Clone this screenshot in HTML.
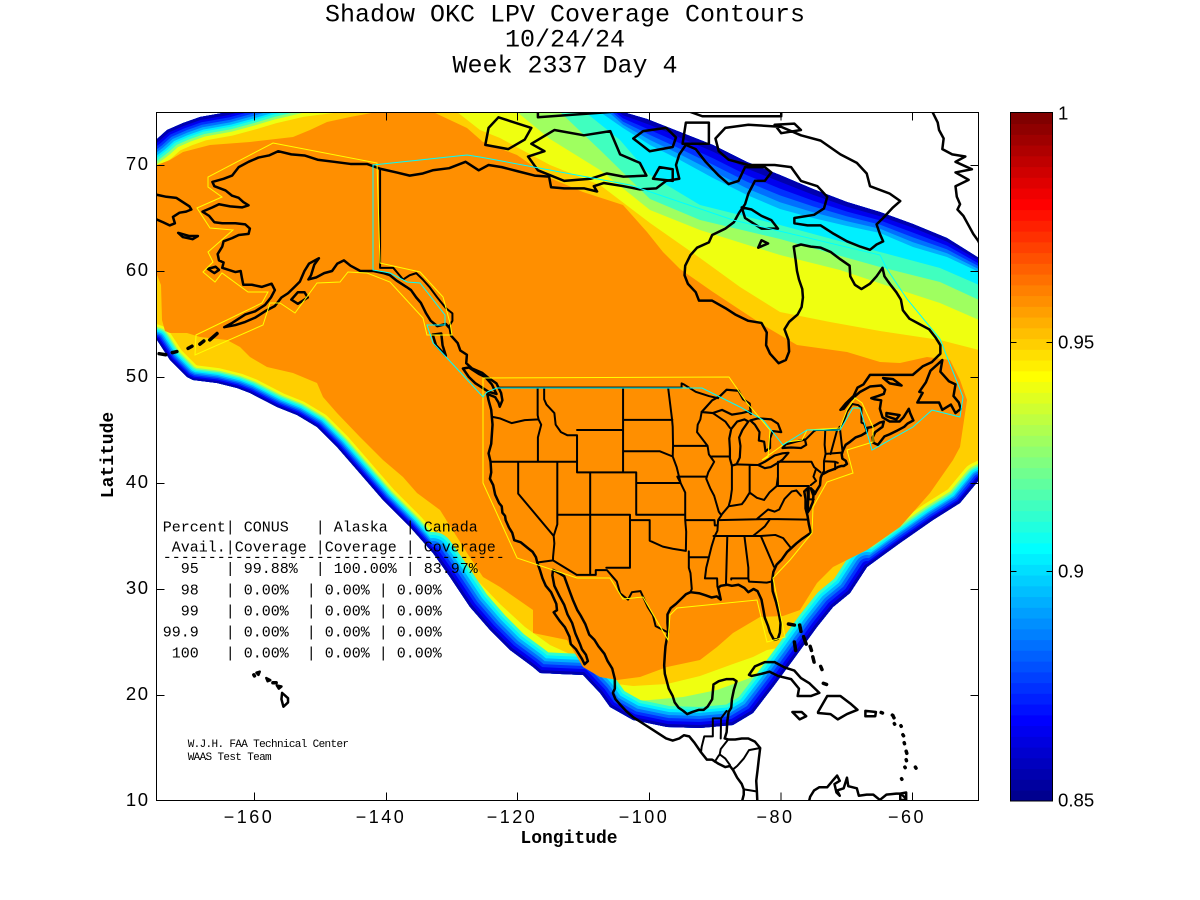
<!DOCTYPE html>
<html><head><meta charset="utf-8"><style>
html,body{margin:0;padding:0;background:#fff}
svg{display:block}
.m{font-family:"Liberation Mono",monospace}
.s{font-family:"Liberation Sans",sans-serif}
.c path{vector-effect:non-scaling-stroke}
.pre{white-space:pre}
</style></head><body>
<svg xmlns="http://www.w3.org/2000/svg" xmlns:xlink="http://www.w3.org/1999/xlink" width="1200" height="900" viewBox="0 0 1200 900">
<defs>
<clipPath id="plot"><rect x="157" y="112.5" width="821.5" height="688.5"/></clipPath>
<clipPath id="cov"><polygon points="110,160 140,152 157,139 167,130 183,123 200,117 228,112 250,106 270,100 300,93 340,88 400,84 530,85 623,112 647,119 680,132 713,145 747,162 780,175 813,189 847,202 880,212 913,224 947,238 979,258 1000,275 1000,470 979,480 960,503 933,520 900,543 867,567 850,593 833,607 817,627 793,660 773,687 753,713 733,725 700,728 667,727 633,720 610,707 600,693 583,675 560,674 540,673 533,667 510,650 490,630 470,607 450,577 433,553 410,527 383,500 357,470 337,447 317,427 297,415 277,407 250,393 237,388 217,383 193,380 187,377 170,360 157,340 140,334 110,338"/></clipPath>
<path id="tl" fill="none" d="M110,160 L140,152 157,139 167,130 183,123 200,117 228,112 250,106 270,100 300,93 340,88 400,84"/>
<path id="sw" fill="none" d="M100,340 L140,334 157,340 170,360 187,377 193,380 217,383 237,388 250,393 277,407 297,415 317,427 337,447 357,470 383,500 410,527 433,553 450,577 470,607"/>
<path id="so" fill="none" d="M433,553 L450,577 470,607 490,630 510,650 533,667 540,673 560,674 583,675 600,693 610,707 633,720 667,727 700,728 733,725 753,713 773,687 793,660 817,627 833,607 850,593 867,567"/>
<path id="se" fill="none" d="M833,607 L850,593 867,567 900,543 933,520 960,503 979,480 1000,470 1020,460"/>
</defs>
<rect width="1200" height="900" fill="#fff"/>

<!-- Title -->
<g class="m" font-size="25" text-anchor="middle" fill="#000">
<text x="565" y="21.5">Shadow OKC LPV Coverage Contours</text>
<text x="565" y="46.5">10/24/24</text>
<text x="565" y="72.5">Week 2337 Day 4</text>
</g>

<g clip-path="url(#plot)">
 <g clip-path="url(#cov)">
  <rect x="90" y="40" width="960" height="820" fill="#FFCF00"/>
  <!-- south overlays -->
  <polygon fill="#EFFF10" points="450,550 475,578 500,604 525,627 550,645 583,660 600,682 633,686 667,684 700,676 733,664 753,657 767,650 783,647 800,640 817,625 830,615 840,790 450,790"/>
  <polygon fill="#8FFF70" points="600,700 620,702 650,700 683,697 717,690 750,678 783,663 800,652 815,640 830,635 840,790 600,790"/>
  <!-- edge bands -->
  <g fill="none" stroke-linejoin="round" stroke-linecap="round">
   <use href="#tl" stroke="#EFFF10" stroke-width="48"/><use href="#sw" stroke="#EFFF10" stroke-width="30"/><use href="#se" stroke="#EFFF10" stroke-width="36"/>
   <use href="#tl" stroke="#8FFF70" stroke-width="40"/><use href="#sw" stroke="#8FFF70" stroke-width="25"/><use href="#se" stroke="#8FFF70" stroke-width="30"/>
   <use href="#tl" stroke="#30FFCF" stroke-width="35"/><use href="#sw" stroke="#30FFCF" stroke-width="22"/><use href="#so" stroke="#30FFCF" stroke-width="42"/><use href="#se" stroke="#30FFCF" stroke-width="26"/>
   <use href="#tl" stroke="#00EFFF" stroke-width="30"/><use href="#sw" stroke="#00EFFF" stroke-width="19"/><use href="#so" stroke="#00EFFF" stroke-width="36"/><use href="#se" stroke="#00EFFF" stroke-width="23"/>
   <use href="#tl" stroke="#00AFFF" stroke-width="26"/><use href="#sw" stroke="#00AFFF" stroke-width="16"/><use href="#so" stroke="#00AFFF" stroke-width="30"/><use href="#se" stroke="#00AFFF" stroke-width="19"/>
   <use href="#tl" stroke="#0070FF" stroke-width="21"/><use href="#sw" stroke="#0070FF" stroke-width="13"/><use href="#so" stroke="#0070FF" stroke-width="24"/><use href="#se" stroke="#0070FF" stroke-width="16"/>
   <use href="#tl" stroke="#0030FF" stroke-width="16"/><use href="#sw" stroke="#0030FF" stroke-width="10"/><use href="#so" stroke="#0030FF" stroke-width="18"/><use href="#se" stroke="#0030FF" stroke-width="12"/>
   <use href="#tl" stroke="#0000EF" stroke-width="11"/><use href="#sw" stroke="#0000EF" stroke-width="7"/><use href="#so" stroke="#0000EF" stroke-width="12"/><use href="#se" stroke="#0000EF" stroke-width="8"/>
   <use href="#tl" stroke="#0000AF" stroke-width="6"/><use href="#sw" stroke="#0000AF" stroke-width="4"/><use href="#so" stroke="#0000AF" stroke-width="6"/><use href="#se" stroke="#0000AF" stroke-width="5"/>
  </g>
  <!-- north bands -->
  <polygon fill="#EFFF10" points="445,90 457,112 480,130 500,138 550,165 600,185 650,223 700,258 740,287 780,312 830,322 880,331 940,340 979,350 1010,355 1010,40 445,40"/>
  <polygon fill="#9FFF60" points="505,90 517,112 550,139 600,170 650,210 700,230 780,255 840,270 900,290 940,303 979,320 1010,325 1010,40 505,40"/>
  <polygon fill="#40FFBF" points="550,90 560,112 600,150 650,199 700,220 780,239 880,267 940,282 979,300 1010,305 1010,40 550,40"/>
  <polygon fill="#00EFFF" points="575,95 585,112 620,140 650,175 700,205 780,225 880,252 940,268 979,285 1010,290 1010,40 575,40"/>
  <polygon fill="#00AFFF" points="590,95 600,112 623,128 650,145 680,160 713,178 747,195 780,209 813,218 847,226 880,233 913,247 947,257 979,272 1010,280 1010,40 590,40"/>
  <polygon fill="#0070FF" points="595,100 623,124.8 650,140 680,154.4 713,171.4 747,188.4 780,202.2 813,212.2 847,221.2 880,228.8 913,242.2 947,253.2 979,269.2 1010,277 1010,40 595,40"/>
  <polygon fill="#0030FF" points="598,100 623,121.6 650,135 680,148.8 713,164.8 747,181.8 780,195.4 813,206.4 847,216.4 880,224.6 913,237.4 947,249.4 979,266.4 1010,274 1010,40 598,40"/>
  <polygon fill="#0000EF" points="600,100 623,118.4 650,130 680,143.2 713,158.2 747,175.2 780,188.6 813,200.6 847,211.6 880,220.4 913,232.6 947,245.6 979,263.6 1010,271 1010,40 600,40"/>
  <polygon fill="#0000AF" points="602,100 623,115.2 650,125 680,137.6 713,151.6 747,168.6 780,181.8 813,194.8 847,206.8 880,216.2 913,227.8 947,241.8 979,260.8 1010,268 1010,40 602,40"/>
  <!-- orange core -->
  <polygon fill="#FF8F00" points="150,167 157,165 170,160 183,152 210,145 250,142 293,137 310,130 327,122 350,117 377,112 380,95 430,95 433,112 467,128 483,142 517,155 550,178 583,192 623,205 647,232 663,252 680,269 713,292 763,325 797,345 847,352 880,362 900,363 927,357 950,360 960,380 967,400 963,427 960,447 953,460 930,493 900,527 867,550 833,567 817,583 800,610 783,616 760,617 733,633 717,647 700,660 667,667 640,677 617,680 600,677 583,667 567,640 533,633 533,610 500,587 483,577 467,553 440,510 417,493 403,477 383,460 360,437 337,413 323,397 317,383 293,373 267,367 250,357 240,347 227,340 200,337 187,333 170,333 165,331 162,320 161,285 157,275 150,275"/>
 </g>

 <!-- coastlines & borders -->
 <g class="c" transform="matrix(6.576 0 0 -10.6 1307.3 907)" fill="none" stroke="#000" stroke-linejoin="round" stroke-linecap="round">
  <path stroke-width="2.5" vector-effect="non-scaling-stroke" d="M-83.6,9.5 -83.7,10.9 -83.8,11.9 -83.6,12.9 -83.4,14.0 -83.2,15.0 -84.0,15.6 -85.0,15.9 -86.0,15.9 -87.0,15.8 -88.0,15.8 -88.6,15.9 -88.3,16.5 -88.2,17.5 -88.0,18.4 -87.6,18.8 -87.5,19.6 -87.2,20.5 -86.8,21.3 -87.3,21.5 -88.3,21.5 -89.5,21.3 -90.3,21.0 -90.4,20.3 -90.5,19.6 -91.2,18.9 -91.8,18.6 -92.5,18.6 -93.5,18.4 -94.3,18.2 -94.9,18.5 -95.6,18.8 -96.2,19.3 -96.5,19.9 -97.1,20.6 -97.4,21.3 -97.7,22.0 -97.8,22.8 -97.7,23.8 -97.6,24.6 -97.4,25.3 -97.2,26.0 -97.3,26.8 -97.3,27.6 -96.8,28.2 -96.0,28.6 -95.0,29.2 -94.5,29.5 -93.8,29.7 -92.5,29.6 -91.5,29.4 -90.6,29.2 -89.8,29.3 -89.2,29.0 -89.4,29.6 -89.6,30.1 -89.2,30.3 -88.2,30.4 -87.5,30.3 -86.5,30.4 -85.6,30.1 -85.0,29.7 -84.2,30.0 -83.6,29.8 -83.0,29.0 -82.7,28.0 -82.5,27.3 -82.0,26.5 -81.7,25.9 -81.1,25.2 -80.5,25.3 -80.2,25.9 -80.1,26.8 -80.4,27.8 -80.8,28.8 -81.3,29.8 -81.4,30.7 -81.2,31.6 -80.7,32.3 -79.9,32.8 -79.1,33.5 -78.4,33.9 -77.7,34.3 -76.9,34.7 -76.2,35.0 -75.5,35.3 -75.8,36.1 -76.0,36.9 -76.3,37.6 -76.3,38.5 -76.5,39.2 -76.0,39.5 -75.9,38.5 -76.0,37.2 -75.6,37.6 -75.2,38.2 -75.1,38.8 -75.5,39.5 -75.0,39.2 -74.9,38.95 -74.6,39.3 -74.1,39.8 -74.0,40.5 -73.8,40.8 -72.9,41.1 -72.0,41.3 -71.4,41.5 -70.9,41.6 -70.5,41.6 -70.0,41.8 -70.2,42.1 -70.7,42.3 -70.8,42.7 -70.6,43.1 -70.2,43.6 -69.5,43.9 -68.7,44.3 -67.8,44.5 -67.0,44.8 -66.9,45.2 -66.1,45.3 -65.0,45.7 -64.4,45.8 -64.6,45.3 -65.7,44.8 -66.1,44.3 -66.0,43.8 -65.3,43.6 -64.3,44.4 -63.5,44.6 -62.5,44.9 -61.3,45.3 -60.8,45.6 -59.9,45.9 -60.4,46.6 -60.6,47.0 -61.4,46.2 -62.0,45.8 -63.5,45.8 -64.6,46.2 -65.0,47.0 -64.8,47.8 -65.8,47.9 -66.3,48.0 -65.3,48.2 -64.4,48.4 -64.2,48.8 -64.8,49.2 -66.5,49.1 -68.0,48.6 -69.5,47.8 -70.5,47.0 -71.0,46.9 -70.2,47.5 -69.0,48.2 -68.4,49.0 -67.5,49.3 -66.5,50.2 -64.5,50.2 -62.0,50.2 -60.0,50.2 -58.5,51.0 -57.1,51.4 -55.8,52.2 -55.8,53.0 -56.5,53.7 -57.5,54.5 -59.0,55.0 -60.5,55.5 -61.5,56.3 -61.8,57.3 -62.5,58.0 -63.5,58.8 -64.3,59.5 -64.6,60.3 -65.5,59.5 -66.5,58.8 -67.8,58.3 -68.8,58.7 -69.5,59.5 -69.6,60.5 -71.0,61.1 -72.5,61.8 -74.0,62.2 -75.5,62.3 -77.0,62.5 -78.1,62.3 -77.8,61.0 -77.6,60.0 -77.3,59.2 -76.8,58.3 -76.7,57.5 -76.9,56.6 -77.5,55.9 -78.8,55.2 -79.5,54.5 -78.9,53.5 -78.8,52.4 -79.3,51.6 -80.4,51.3 -81.7,52.2 -82.3,53.0 -82.2,54.2 -83.0,55.1 -85.0,55.3 -87.0,55.9 -88.5,56.5 -90.5,57.2 -92.5,57.2 -93.0,58.0 -94.2,58.8 -94.7,59.6 -94.6,60.5 -93.8,61.5 -92.8,62.2 -91.0,62.7 -90.5,63.4 -88.5,64.0 -87.2,64.6 -86.4,65.5 -85.5,66.3 -85.0,67.3 -84.0,68.5 -82.5,68.5 -81.5,69.3 -82.5,69.8 -85.5,69.8 -86.5,68.5 -88.0,68.2 -89.5,69.0 -91.5,70.3 -93.0,71.5 -94.5,71.9 -95.5,71.0 -96.0,70.0 -95.5,68.7 -97.5,68.5 -99.0,67.8 -101.5,67.7 -104.0,68.0 -107.0,68.3 -108.5,68.0 -108.0,67.5 -110.0,67.8 -113.0,67.8 -115.0,67.9 -115.3,68.9 -117.5,69.0 -120.0,69.4 -122.5,69.8 -124.5,70.0 -126.0,69.5 -128.0,70.3 -130.5,69.7 -133.0,69.5 -134.5,69.2 -136.5,69.0 -138.5,69.3 -141.0,69.65 -143.0,70.1 -145.5,70.1 -148.0,70.3 -150.5,70.5 -152.5,70.9 -154.5,71.0 -156.5,71.3 -157.9,70.9 -159.5,70.7 -161.0,70.3 -162.5,69.8 -163.5,69.0 -164.8,68.7 -166.5,68.4 -166.2,68.0 -164.5,67.6 -163.5,67.1 -162.5,66.9 -161.8,66.5 -161.0,66.2 -162.0,66.0 -163.8,66.1 -165.5,66.3 -166.5,66.0 -168.0,65.6 -167.0,65.2 -166.2,64.6 -165.0,64.5 -163.0,64.5 -161.5,64.4 -160.8,64.0 -161.0,63.5 -162.5,63.4 -163.5,63.1 -164.8,62.8 -165.0,62.3 -165.7,61.6 -165.5,61.0 -164.8,60.8 -165.0,60.3 -163.0,59.9 -162.2,60.0 -162.0,59.3 -161.8,58.7 -160.5,58.7 -159.0,58.5 -157.5,58.8 -157.0,58.2 -157.6,57.5 -158.5,56.8 -160.0,56.2 -161.5,55.9 -162.5,55.5 -163.5,55.1 -164.7,54.7 -163.0,54.9 -161.5,55.2 -160.0,55.6 -158.5,56.2 -157.0,56.7 -156.0,57.5 -155.0,57.9 -154.0,58.5 -153.2,59.0 -152.5,60.0 -151.8,60.7 -150.3,61.2 -151.0,60.6 -151.5,59.6 -151.9,59.2 -150.7,59.4 -149.5,59.8 -148.3,60.0 -147.5,60.7 -146.5,61.0 -145.5,60.5 -144.0,60.0 -142.0,60.0 -140.5,59.8 -139.5,59.6 -138.5,59.1 -137.0,58.5 -136.3,58.2 -135.5,57.5 -134.8,57.0 -134.0,56.0 -133.3,55.3 -132.3,54.8 -131.0,55.0 -130.4,54.6 -130.2,53.9 -129.2,53.2 -128.8,52.5 -127.8,52.1 -127.9,51.3 -127.0,50.8 -125.5,50.4 -124.5,49.9 -123.3,49.4 -123.0,49.0 -122.6,48.5 -122.4,47.8 -122.8,47.2 -123.0,47.6 -123.5,48.1 -124.7,48.4 -124.5,47.8 -124.1,46.9 -124.0,46.2 -123.9,45.5 -124.0,44.6 -124.1,43.7 -124.5,42.8 -124.2,42.0 -124.1,41.0 -124.3,40.4 -123.8,39.8 -123.5,38.9 -122.9,38.1 -122.5,37.8 -122.4,37.2 -122.0,36.9 -121.9,36.5 -121.4,35.8 -120.9,35.3 -120.6,34.6 -119.6,34.4 -118.8,34.0 -118.4,33.8 -117.8,33.5 -117.3,33.0 -117.1,32.5 -116.7,31.8 -116.3,31.0 -115.8,30.3 -115.0,29.7 -114.2,28.6 -114.1,28.0 -114.6,27.8 -113.7,27.0 -112.9,26.4 -112.2,25.5 -112.0,24.8 -111.2,24.3 -110.3,23.4 -109.9,22.9 -109.4,23.2 -109.7,23.8 -110.3,24.3 -110.6,24.8 -111.3,25.8 -111.8,26.8 -112.5,27.6 -113.0,28.5 -113.7,29.3 -114.5,30.3 -114.8,31.3 -114.7,31.8 -113.8,31.5 -113.0,31.2 -112.3,30.0 -111.7,29.0 -111.0,28.0 -110.5,27.5 -109.8,26.7 -109.2,25.7 -108.4,25.2 -107.8,24.6 -106.9,23.9 -106.4,23.2 -105.7,22.5 -105.3,21.5 -105.3,20.6 -105.6,20.2 -105.2,19.6 -104.5,19.1 -103.6,18.5 -102.5,17.9 -101.5,17.5 -100.5,17.1 -99.5,16.7 -98.5,16.3 -97.5,15.9 -96.5,15.7 -95.5,15.9 -94.8,16.2 -94.0,16.1 -93.2,15.5 -92.2,14.6 -91.3,13.9 -90.5,13.9 -89.5,13.5 -88.5,13.2 -87.8,13.3 -87.3,12.9 -86.7,12.2 -86.0,11.6 -85.7,11.1 -85.7,10.6 -85.9,10.1 -85.6,9.5"/>
  <path stroke-width="2.5" vector-effect="non-scaling-stroke" d="M-61.9,66.6 -63.0,66.0 -64.5,65.0 -65.5,64.4 -65.0,63.5 -64.5,62.8 -65.5,62.5 -66.5,62.0 -68.0,62.3 -70.0,62.8 -72.0,63.5 -74.0,64.3 -76.0,64.3 -78.0,64.5 -78.0,65.0 -75.0,65.3 -73.5,65.9 -73.0,67.0 -74.5,68.0 -77.0,68.5 -78.5,69.8 -81.0,70.0 -85.0,70.0 -88.0,70.5 -89.5,71.3 -90.0,72.5 -88.5,73.5 -85.0,73.8 -80.0,73.6 -77.0,72.8 -74.0,72.3 -71.0,71.0 -68.5,70.2 -67.0,69.2 -66.5,68.0 -63.5,67.3 Z
  M-80.5,64.0 -83.0,64.0 -85.5,65.0 -86.0,66.0 -84.5,65.8 -83.0,65.2 -81.5,64.8 Z
  M-82.0,62.6 -83.5,62.2 -83.0,62.9 Z
  M-100.5,69.0 -104.0,68.9 -106.5,69.2 -109.0,68.7 -113.0,68.5 -117.0,69.5 -118.5,70.8 -116.0,71.3 -118.0,72.0 -114.5,73.3 -110.0,72.8 -106.0,73.2 -104.5,71.0 -101.5,70.2 Z
  M-121.5,71.5 -125.0,71.9 -124.5,73.5 -123.0,74.5 -118.0,73.5 -119.0,72.4 Z
  M-96.5,71.7 -100.0,71.3 -102.5,72.5 -101.0,73.2 -97.5,73.5 -96.0,72.6 Z
  M-91.0,72.0 -95.0,72.0 -94.5,74.0 -91.0,74.0 Z
  M-96.5,68.5 -99.5,68.7 -98.5,69.8 -96.5,69.6 Z
  M-77.0,73.3 -80.0,73.0 -81.0,73.8 -78.0,73.9 Z
  M-80.0,74.6 -92.0,74.6 -96.0,75.5 -80.0,76 Z
  M-106.0,75.0 -117.0,74.5 -117.0,76.0 -106,76 Z
  M-59.3,47.6 -58.5,48.5 -59.0,48.6 -58.0,49.5 -57.3,50.6 -55.5,51.6 -55.8,50.5 -54.5,49.6 -53.5,49.3 -53.8,48.2 -53.0,47.6 -52.7,47.0 -53.5,46.6 -54.2,47.4 -55.5,46.9 -56.0,47.6 -57.5,47.6 Z
  M-64.0,46.6 -62.0,46.4 -62.5,46.0 -64.0,46.3 Z
  M-64.5,49.9 -63.0,49.8 -61.7,49.2 -63.5,49.4 Z
  M-123.3,48.4 -124.5,48.6 -125.5,49.0 -126.5,49.4 -127.5,50.0 -128.4,50.8 -127.5,50.9 -126.0,50.3 -125.0,50.0 -124.0,49.3 Z
  M-131.0,52.0 -132.5,53.0 -133.0,54.0 -131.7,54.1 -131.5,53.0 Z
  M-152.0,57.5 -153.5,56.9 -154.5,57.3 -153.5,58.0 -152.5,58.0 Z
  M-167.2,60.2 -166.0,60.4 -165.5,60.1 -166.2,59.8 Z
  M-171.7,63.6 -170.0,63.3 -168.7,63.3 -169.5,63.0 -171.0,63.2 Z
  M-175,67.2 -173.5,67.0 -172.0,66.9 -171.0,66.5 -170.0,66.1 -169.7,65.8 -170.5,65.6 -171.5,65.5 -172.5,65.1 -172.2,64.5 -173.0,64.3 -174.0,64.6 -175.5,65.0
  M-57.8,75.8 -57.0,75.0 -56.2,74.0 -56.0,73.3 -55.3,72.5 -55.5,71.5 -54.0,71.0 -52.0,70.8 -53.5,70.3 -51.0,69.6 -53.5,69.3 -51.5,68.6 -53.5,68.0 -53.3,67.0 -52.8,66.3 -53.2,65.8 -52.3,65.2 -51.5,64.3 -50.8,63.5 -50.0,62.8 -49.5,62.0 -48.5,61.0
  M-84.9,21.9 -84.0,22.7 -82.5,23.1 -81.0,23.1 -79.5,22.6 -78.0,22.3 -77.0,21.6 -75.7,21.1 -74.2,20.2 -75.5,19.9 -77.5,19.9 -77.3,20.6 -78.5,21.5 -80.5,21.8 -81.8,22.2 -83.0,22.0 -84.5,21.8 Z
  M-74.4,18.4 -73.0,19.9 -71.0,19.9 -69.5,19.2 -68.4,18.6 -70.0,18.2 -71.4,17.7 -72.5,18.2 -74.4,18.3 Z
  M-78.3,18.4 -76.9,18.4 -76.2,18.0 -77.2,17.7 Z
  M-67.2,18.5 -65.6,18.4 -65.7,18.0 -67.2,18.0 Z
  M-155.9,20.2 -155.0,19.7 -155.0,19.3 -155.7,18.9 -156.0,19.6 Z
  M-156.7,20.9 -156.0,20.8 -156.4,20.6 Z
  M-158.3,21.6 -157.7,21.4 -158.1,21.3 Z
  M-159.8,22.1 -159.3,22.2 -159.5,21.9 Z
  M-77.5,8.5 -76.8,8.6 -76.0,9.4 -75.6,10.4 -75.0,11.0 -74.2,11.3 -73.0,11.3 -72.2,11.9 -71.5,12.4 -71.1,11.9 -71.9,11.6 -71.6,10.8 -71.1,10.5 -71.5,11.0 -70.5,11.2 -70.0,12.2 -69.8,11.4 -68.5,11.2 -68.2,10.5 -67.0,10.6 -66.0,10.6 -65.0,10.1 -64.0,10.6 -62.5,10.7 -61.8,10.7 -61.0,10.2
  M-61.9,10.7 -61.0,10.8 -61.0,10.1 -61.9,10.1 Z"/>
  <path stroke-width="3.5" vector-effect="non-scaling-stroke" d="M-166.9,53.5 L-165.8,54.1 M-168.4,53.1 L-167.8,53.4 M-170.2,52.7 L-169.6,52.9 M-172.6,52.3 L-171.9,52.4 M-174.6,52.2 L-173.6,52.1 M-157.3,21.15 L-156.8,21.15 M-160.2,21.9 L-160.1,21.8
  M-78.9,26.7 L-78.0,26.6 M-77.2,26.6 L-77.0,26.0 M-78.0,25.0 L-77.8,24.2 M-76.6,25.5 L-76.2,24.8 M-75.6,24.6 L-75.4,24.2 M-75.2,23.6 L-75.0,23.1 M-73.6,21.1 L-73.1,21.0 M-74.0,22.7 L-73.8,22.4
  M-61.8,17.1 L-61.75,17.05 M-62.8,17.3 L-62.75,17.25 M-61.5,16.25 L-61.4,16.15 M-61.3,15.5 L-61.25,15.4 M-61.0,14.7 L-60.9,14.5 M-61.0,13.9 L-60.95,13.8 M-61.2,13.2 L-61.15,13.15 M-61.7,12.1 L-61.65,12.05 M-59.6,13.2 L-59.5,13.1 M-63.1,18.1 L-63.0,18.05 M-64.8,18.35 L-64.6,18.3 M-62.9,17.9 L-62.85,17.85"/>
  <!-- Great Lakes -->
  <path stroke-width="2.2" vector-effect="non-scaling-stroke" d="M-92.1,46.7 -90.4,46.6 -89.0,46.9 -87.5,46.45 -86.0,46.6 -85.0,46.75 -84.6,46.5 -84.8,47.5 -85.8,47.9 -86.5,48.7 -88.3,48.8 -89.3,48.2 -90.5,47.8 Z
  M-87.5,41.65 -86.8,41.75 -86.3,42.4 -86.2,43.5 -86.4,44.3 -85.9,45.0 -85.0,45.8 -85.6,46.0 -86.7,45.8 -87.6,45.1 -87.9,44.2 -87.8,43.2 -87.8,42.3 Z
  M-84.7,45.9 -83.5,46.1 -81.5,46.0 -80.5,45.6 -80.0,44.8 -81.3,44.9 -81.7,44.2 -81.7,43.3 -82.4,43.0 -82.6,43.9 -83.4,44.0 -83.3,44.8 -84.0,45.5 Z
  M-83.5,41.7 -82.5,41.4 -81.6,41.5 -80.5,41.9 -79.8,42.2 -78.9,42.85 -79.8,42.8 -81.0,42.6 -82.5,42.0 Z
  M-79.8,43.3 -78.5,43.35 -77.0,43.3 -76.2,43.6 -76.4,44.1 -77.5,43.95 -79.3,43.65 Z"/>
  <!-- borders -->
  <path stroke-width="2" vector-effect="non-scaling-stroke" d="M-124.0,46.25 L-122.8,46.1 -121.0,45.65 -119.0,45.93 -116.9,46.0
  M-117.04,49.0 L-117.04,46.4 -116.9,46.0 -116.5,45.5 -117.0,44.3 -117.0,42.0
  M-124.2,42.0 L-111.05,42.0
  M-120.0,42.0 L-120.0,39.0 -114.6,35.0
  M-114.6,35.0 L-114.5,34.3 -114.7,33.0 -114.7,32.7
  M-117.1,32.5 L-114.7,32.7 -111.1,31.33 -108.2,31.33 -108.2,31.78 -106.5,31.78 -105.0,30.7 -104.5,29.6 -103.3,29.0 -102.7,29.7 -101.4,29.8 -100.3,28.3 -99.5,27.5 -99.1,26.5 -97.2,25.9
  M-114.05,42.0 L-114.05,36.1 -114.6,35.0
  M-116.05,49.0 L-116.05,47.9 -115.7,47.4 -114.5,46.6 -114.3,45.5 -113.5,44.8 -112.5,44.5 -111.05,44.5 -111.05,41.0 -109.05,41.0
  M-109.05,41.0 L-109.05,31.33
  M-114.05,37.0 L-103.0,37.0
  M-111.05,45.0 L-104.05,45.0
  M-111.05,41.0 L-102.05,41.0 -102.05,37.0
  M-104.05,49.0 L-104.05,41.0
  M-104.05,43.0 L-98.5,43.0 -96.5,42.5
  M-102.05,40.0 L-95.3,40.0
  M-103.0,37.0 L-103.0,32.0 -106.6,32.0
  M-103.0,36.5 L-100.0,36.5 -100.0,34.56 -98.0,34.0 -96.5,33.8 -94.5,33.6
  M-102.05,37.0 L-94.6,37.0
  M-95.8,40.6 L-95.3,40.0 M-95.3,40.0 L-94.6,39.1 -94.6,36.5 -94.45,35.4 -94.5,33.6
  M-94.05,33.55 L-94.05,32.0 -93.8,31.5 -93.6,30.0 -93.8,29.7
  M-94.05,33.0 L-91.2,33.0
  M-104.05,45.95 L-96.55,45.95
  M-97.2,49.0 L-96.6,46.0 -96.5,45.3 -96.45,43.5 -96.5,42.5 -95.9,41.5 -95.3,40.0
  M-96.45,43.5 L-91.2,43.5
  M-95.8,40.6 L-91.4,40.6
  M-92.1,46.7 L-92.3,46.0 -92.7,45.5 -92.8,44.8 -91.2,43.5 -91.0,42.7 -90.2,42.0 -91.1,41.0 -91.4,40.4 -90.8,39.5 -90.2,38.8 -89.5,37.3 -89.1,36.95 -89.6,36.5 -89.7,35.5 -90.1,35.0 -90.6,34.0 -91.0,33.0 -91.4,32.0 -91.6,31.0 -89.75,31.0 -89.7,30.2
  M-94.6,36.5 L-90.15,36.5 -90.1,36.0 -89.7,36.0
  M-87.8,45.2 L-88.5,45.8 -90.4,46.6
  M-90.6,42.5 L-87.8,42.5
  M-87.5,41.7 L-87.5,39.4 -87.7,38.5 -88.0,37.8
  M-84.8,41.7 L-84.8,39.1
  M-87.0,41.76 L-83.5,41.7
  M-89.1,37.0 L-88.0,37.8 -87.0,37.9 -86.0,38.0 -85.5,38.4 -84.8,39.1 -83.7,38.6 -82.6,38.4 -81.8,39.1 -80.7,39.7 -80.5,40.6
  M-89.5,36.5 L-81.7,36.6
  M-81.7,36.6 L-82.5,35.9 -84.3,35.0
  M-90.3,35.0 L-84.3,35.0
  M-88.2,35.0 L-88.4,30.4
  M-85.6,35.0 L-85.0,32.0 -85.0,31.0
  M-87.6,30.9 L-87.6,31.0 -85.0,31.0 -84.9,30.7 -82.2,30.6 -81.5,30.7
  M-83.1,35.0 L-81.1,32.1
  M-84.3,35.0 L-83.1,35.0 -80.9,35.1 -79.7,34.8 -78.5,33.85
  M-81.7,36.6 L-75.9,36.55
  M-83.7,36.6 L-82.0,37.5 -81.0,37.3 -80.3,37.5 -79.5,38.5 -78.4,39.2 -77.7,39.3 -77.0,38.8
  M-80.5,39.72 L-75.8,39.72
  M-80.5,39.72 L-80.5,42.0 -79.76,42.0 -75.4,42.0 -75.0,41.5 -74.7,41.35 -74.0,41.0
  M-74.7,41.35 L-75.1,40.6 -74.7,40.2 -75.5,39.8
  M-75.8,39.72 L-75.8,38.45 -75.05,38.45
  M-73.3,45.0 L-73.4,43.6 -73.25,42.75 -73.5,42.05 -73.5,41.1 -73.65,41.0
  M-71.5,45.0 L-72.5,42.73
  M-71.1,45.3 L-70.7,43.1
  M-73.25,42.75 L-70.8,42.87
  M-73.5,42.05 L-71.8,42.0 -71.4,41.9
  M-71.8,42.0 L-71.8,41.3
  M-123.0,49.0 L-95.15,49.0 -95.15,49.4 -94.8,49.3 -93.0,48.6 -91.0,48.2 -89.6,48.0
  M-76.3,44.1 L-75.0,44.9 -74.7,45.0 -71.5,45.0 -71.1,45.3 -70.8,45.4 -70.2,46.3 -70.0,46.7 -69.2,47.45 -68.3,47.35 -67.8,47.1 -67.8,45.7 -67.4,45.6 -67.0,44.9
  M-141,69.65 L-141,60.3 -139.0,60.3 -137.5,59.2 -136.5,59.6 -135.5,59.8 -134.5,59.2 -133.5,58.5 -132.3,57.5 -131.0,56.5 -130.0,56.0 -130.0,55.3 -130.6,54.7
  M-92.2,14.6 L-92.1,15.1 -91.7,16.1 -90.4,16.1 -90.4,17.8 -89.15,17.8 -88.3,18.5
  M-89.15,17.8 L-89.2,15.9
  M-88.2,15.7 L-89.2,14.9 -89.35,14.4 -89.6,14.2 -90.1,13.7
  M-89.35,14.4 L-88.5,14.0 -87.8,13.4
  M-87.3,13.0 L-86.7,13.3 -85.7,14.0 -84.9,14.8 -83.2,15.0
  M-85.7,11.1 L-84.7,11.0 -83.7,10.9"/>
 </g>

 <!-- service area polygons -->
 <g fill="none" stroke-width="1" stroke-linejoin="miter">
  <polygon stroke="#FFFF00" points="273,143 377,163 380,263 420,272 443,297 450,323 452,335 427,335 423,318 390,282 367,273 348,272 340,282 317,283 295,313 280,303 270,303 263,325 195,355 196,335 262,303 268,292 248,292 222,273 215,282 203,272 213,262 208,252 233,230 210,228 197,208 222,197 208,187 208,177"/>
  <polygon stroke="#FFFF00" points="483,378 729,377 747,403 770,430 768,457 762,460 787,442 802,440 807,430 840,428 847,410 855,398 862,403 873,427 873,442 847,450 853,473 827,482 813,507 812,533 790,560 773,578 785,637 767,642 757,600 677,608 670,615 668,640 643,597 623,599 610,578 577,578 517,558 503,527 483,483"/>
  <polygon stroke="#00FFFF" points="373,165 467,155 480,157 630,185 733,220 880,255 887,269 907,299 940,339 963,397 960,417 940,412 932,410 913,427 872,450 860,408 853,408 840,430 807,430 783,445 763,420 740,407 702,388 497,388 487,392 483,397 460,372 433,343 427,325 445,325 445,315 420,283 407,282 390,273 373,270"/>
 </g>
</g>

<!-- table -->
<g class="m pre" font-size="15" fill="#000" xml:space="preserve">
<text x="162.7" y="531.5" style="white-space:pre">Percent| CONUS   | Alaska  | Canada</text>
<text x="162.7" y="551.7" style="white-space:pre"> Avail.|Coverage |Coverage | Coverage</text>
<text x="162.7" y="561.5" style="white-space:pre">--------------------------------------</text>
<text x="162.7" y="573" style="white-space:pre">  95   | 99.88%  | 100.00% | 83.97%</text>
<text x="162.7" y="594.5" style="white-space:pre">  98   | 0.00%  | 0.00% | 0.00%</text>
<text x="162.7" y="615.5" style="white-space:pre">  99   | 0.00%  | 0.00% | 0.00%</text>
<text x="162.7" y="636.5" style="white-space:pre">99.9   | 0.00%  | 0.00% | 0.00%</text>
<text x="162.7" y="657.5" style="white-space:pre"> 100   | 0.00%  | 0.00% | 0.00%</text>
</g>
<g class="m" font-size="11" letter-spacing="-0.65" fill="#000">
<text x="187.7" y="747">W.J.H. FAA Technical Center</text>
<text x="187.7" y="760">WAAS Test Team</text>
</g>

<!-- axes box & ticks -->
<rect x="156.5" y="112.5" width="822" height="688" fill="none" stroke="#000" stroke-width="1"/>
<g stroke="#000" stroke-width="1">
<path d="M254.5,800.5V792.5M386.5,800.5V792.5M517.5,800.5V792.5M649.5,800.5V792.5M781,800.5V792.5M912.5,800.5V792.5"/>
<path d="M254.5,112.5V120.5M386.5,112.5V120.5M517.5,112.5V120.5M649.5,112.5V120.5M781,112.5V120.5M912.5,112.5V120.5"/>
<path d="M156.5,695.5H164.5M156.5,589.5H164.5M156.5,483.5H164.5M156.5,377.5H164.5M156.5,271.5H164.5M156.5,165.5H164.5"/>
<path d="M978.5,695.5H970.5M978.5,589.5H970.5M978.5,483.5H970.5M978.5,377.5H970.5M978.5,271.5H970.5M978.5,165.5H970.5"/>
</g>
<g class="s" font-size="18" letter-spacing="2.5" fill="#000" text-anchor="middle">
<text x="249" y="823">−160</text>
<text x="381" y="823">−140</text>
<text x="512" y="823">−120</text>
<text x="644" y="823">−100</text>
<text x="775.5" y="823">−80</text>
<text x="907" y="823">−60</text>
</g>
<g class="s" font-size="18.5" letter-spacing="1.5" fill="#000" text-anchor="end">
<text x="149.5" y="170">70</text>
<text x="149.5" y="276">60</text>
<text x="149.5" y="382">50</text>
<text x="149.5" y="488">40</text>
<text x="149.5" y="594">30</text>
<text x="149.5" y="700">20</text>
<text x="149.5" y="806">10</text>
</g>
<text class="m" x="569" y="843" font-size="18" font-weight="bold" text-anchor="middle">Longitude</text>
<text class="m" transform="translate(113,455) rotate(-90)" font-size="18" font-weight="bold" text-anchor="middle">Latitude</text>

<!-- colorbar -->
<g>
<rect x="1010.5" y="790.25" width="42" height="11" fill="#00008F"/>
<rect x="1010.5" y="779.5" width="42" height="11.1" fill="#00009F"/>
<rect x="1010.5" y="768.75" width="42" height="11.1" fill="#0000AF"/>
<rect x="1010.5" y="758" width="42" height="11.1" fill="#0000BF"/>
<rect x="1010.5" y="747.25" width="42" height="11.1" fill="#0000CF"/>
<rect x="1010.5" y="736.5" width="42" height="11.1" fill="#0000DF"/>
<rect x="1010.5" y="725.75" width="42" height="11.1" fill="#0000EF"/>
<rect x="1010.5" y="715" width="42" height="11.1" fill="#0000FF"/>
<rect x="1010.5" y="704.25" width="42" height="11.1" fill="#0010FF"/>
<rect x="1010.5" y="693.5" width="42" height="11.1" fill="#0020FF"/>
<rect x="1010.5" y="682.75" width="42" height="11.1" fill="#0030FF"/>
<rect x="1010.5" y="672" width="42" height="11.1" fill="#0040FF"/>
<rect x="1010.5" y="661.25" width="42" height="11.1" fill="#0050FF"/>
<rect x="1010.5" y="650.5" width="42" height="11.1" fill="#0060FF"/>
<rect x="1010.5" y="639.75" width="42" height="11.1" fill="#0070FF"/>
<rect x="1010.5" y="629" width="42" height="11.1" fill="#0080FF"/>
<rect x="1010.5" y="618.25" width="42" height="11.1" fill="#008FFF"/>
<rect x="1010.5" y="607.5" width="42" height="11.1" fill="#009FFF"/>
<rect x="1010.5" y="596.75" width="42" height="11.1" fill="#00AFFF"/>
<rect x="1010.5" y="586" width="42" height="11.1" fill="#00BFFF"/>
<rect x="1010.5" y="575.25" width="42" height="11.1" fill="#00CFFF"/>
<rect x="1010.5" y="564.5" width="42" height="11.1" fill="#00DFFF"/>
<rect x="1010.5" y="553.75" width="42" height="11.1" fill="#00EFFF"/>
<rect x="1010.5" y="543" width="42" height="11.1" fill="#00FFFF"/>
<rect x="1010.5" y="532.25" width="42" height="11.1" fill="#10FFEF"/>
<rect x="1010.5" y="521.5" width="42" height="11.1" fill="#20FFDF"/>
<rect x="1010.5" y="510.75" width="42" height="11.1" fill="#30FFCF"/>
<rect x="1010.5" y="500" width="42" height="11.1" fill="#40FFBF"/>
<rect x="1010.5" y="489.25" width="42" height="11.1" fill="#50FFAF"/>
<rect x="1010.5" y="478.5" width="42" height="11.1" fill="#60FF9F"/>
<rect x="1010.5" y="467.75" width="42" height="11.1" fill="#70FF8F"/>
<rect x="1010.5" y="457" width="42" height="11.1" fill="#80FF80"/>
<rect x="1010.5" y="446.25" width="42" height="11.1" fill="#8FFF70"/>
<rect x="1010.5" y="435.5" width="42" height="11.1" fill="#9FFF60"/>
<rect x="1010.5" y="424.75" width="42" height="11.1" fill="#AFFF50"/>
<rect x="1010.5" y="414" width="42" height="11.1" fill="#BFFF40"/>
<rect x="1010.5" y="403.25" width="42" height="11.1" fill="#CFFF30"/>
<rect x="1010.5" y="392.5" width="42" height="11.1" fill="#DFFF20"/>
<rect x="1010.5" y="381.75" width="42" height="11.1" fill="#EFFF10"/>
<rect x="1010.5" y="371" width="42" height="11.1" fill="#FFFF00"/>
<rect x="1010.5" y="360.25" width="42" height="11.1" fill="#FFEF00"/>
<rect x="1010.5" y="349.5" width="42" height="11.1" fill="#FFDF00"/>
<rect x="1010.5" y="338.75" width="42" height="11.1" fill="#FFCF00"/>
<rect x="1010.5" y="328" width="42" height="11.1" fill="#FFBF00"/>
<rect x="1010.5" y="317.25" width="42" height="11.1" fill="#FFAF00"/>
<rect x="1010.5" y="306.5" width="42" height="11.1" fill="#FF9F00"/>
<rect x="1010.5" y="295.75" width="42" height="11.1" fill="#FF8F00"/>
<rect x="1010.5" y="285" width="42" height="11.1" fill="#FF8000"/>
<rect x="1010.5" y="274.25" width="42" height="11.1" fill="#FF7000"/>
<rect x="1010.5" y="263.5" width="42" height="11.1" fill="#FF6000"/>
<rect x="1010.5" y="252.75" width="42" height="11.1" fill="#FF5000"/>
<rect x="1010.5" y="242" width="42" height="11.1" fill="#FF4000"/>
<rect x="1010.5" y="231.25" width="42" height="11.1" fill="#FF3000"/>
<rect x="1010.5" y="220.5" width="42" height="11.1" fill="#FF2000"/>
<rect x="1010.5" y="209.75" width="42" height="11.1" fill="#FF1000"/>
<rect x="1010.5" y="199" width="42" height="11.1" fill="#FF0000"/>
<rect x="1010.5" y="188.25" width="42" height="11.1" fill="#EF0000"/>
<rect x="1010.5" y="177.5" width="42" height="11.1" fill="#DF0000"/>
<rect x="1010.5" y="166.75" width="42" height="11.1" fill="#CF0000"/>
<rect x="1010.5" y="156" width="42" height="11.1" fill="#BF0000"/>
<rect x="1010.5" y="145.25" width="42" height="11.1" fill="#AF0000"/>
<rect x="1010.5" y="134.5" width="42" height="11.1" fill="#9F0000"/>
<rect x="1010.5" y="123.75" width="42" height="11.1" fill="#8F0000"/>
<rect x="1010.5" y="113" width="42" height="11.1" fill="#800000"/>
</g>
<rect x="1010.5" y="112.5" width="42" height="688.5" fill="none" stroke="#000" stroke-width="1"/>
<path d="M1010.5,342.5H1016.5M1046.5,342.5H1052.5M1010.5,571.5H1016.5M1046.5,571.5H1052.5" stroke="#000" stroke-width="1"/>
<g class="s" font-size="18.6" fill="#000">
<text x="1058" y="119.5">1</text>
<text x="1058" y="348.5">0.95</text>
<text x="1058" y="577.5">0.9</text>
<text x="1058" y="806.5">0.85</text>
</g>
</svg>
</body></html>
